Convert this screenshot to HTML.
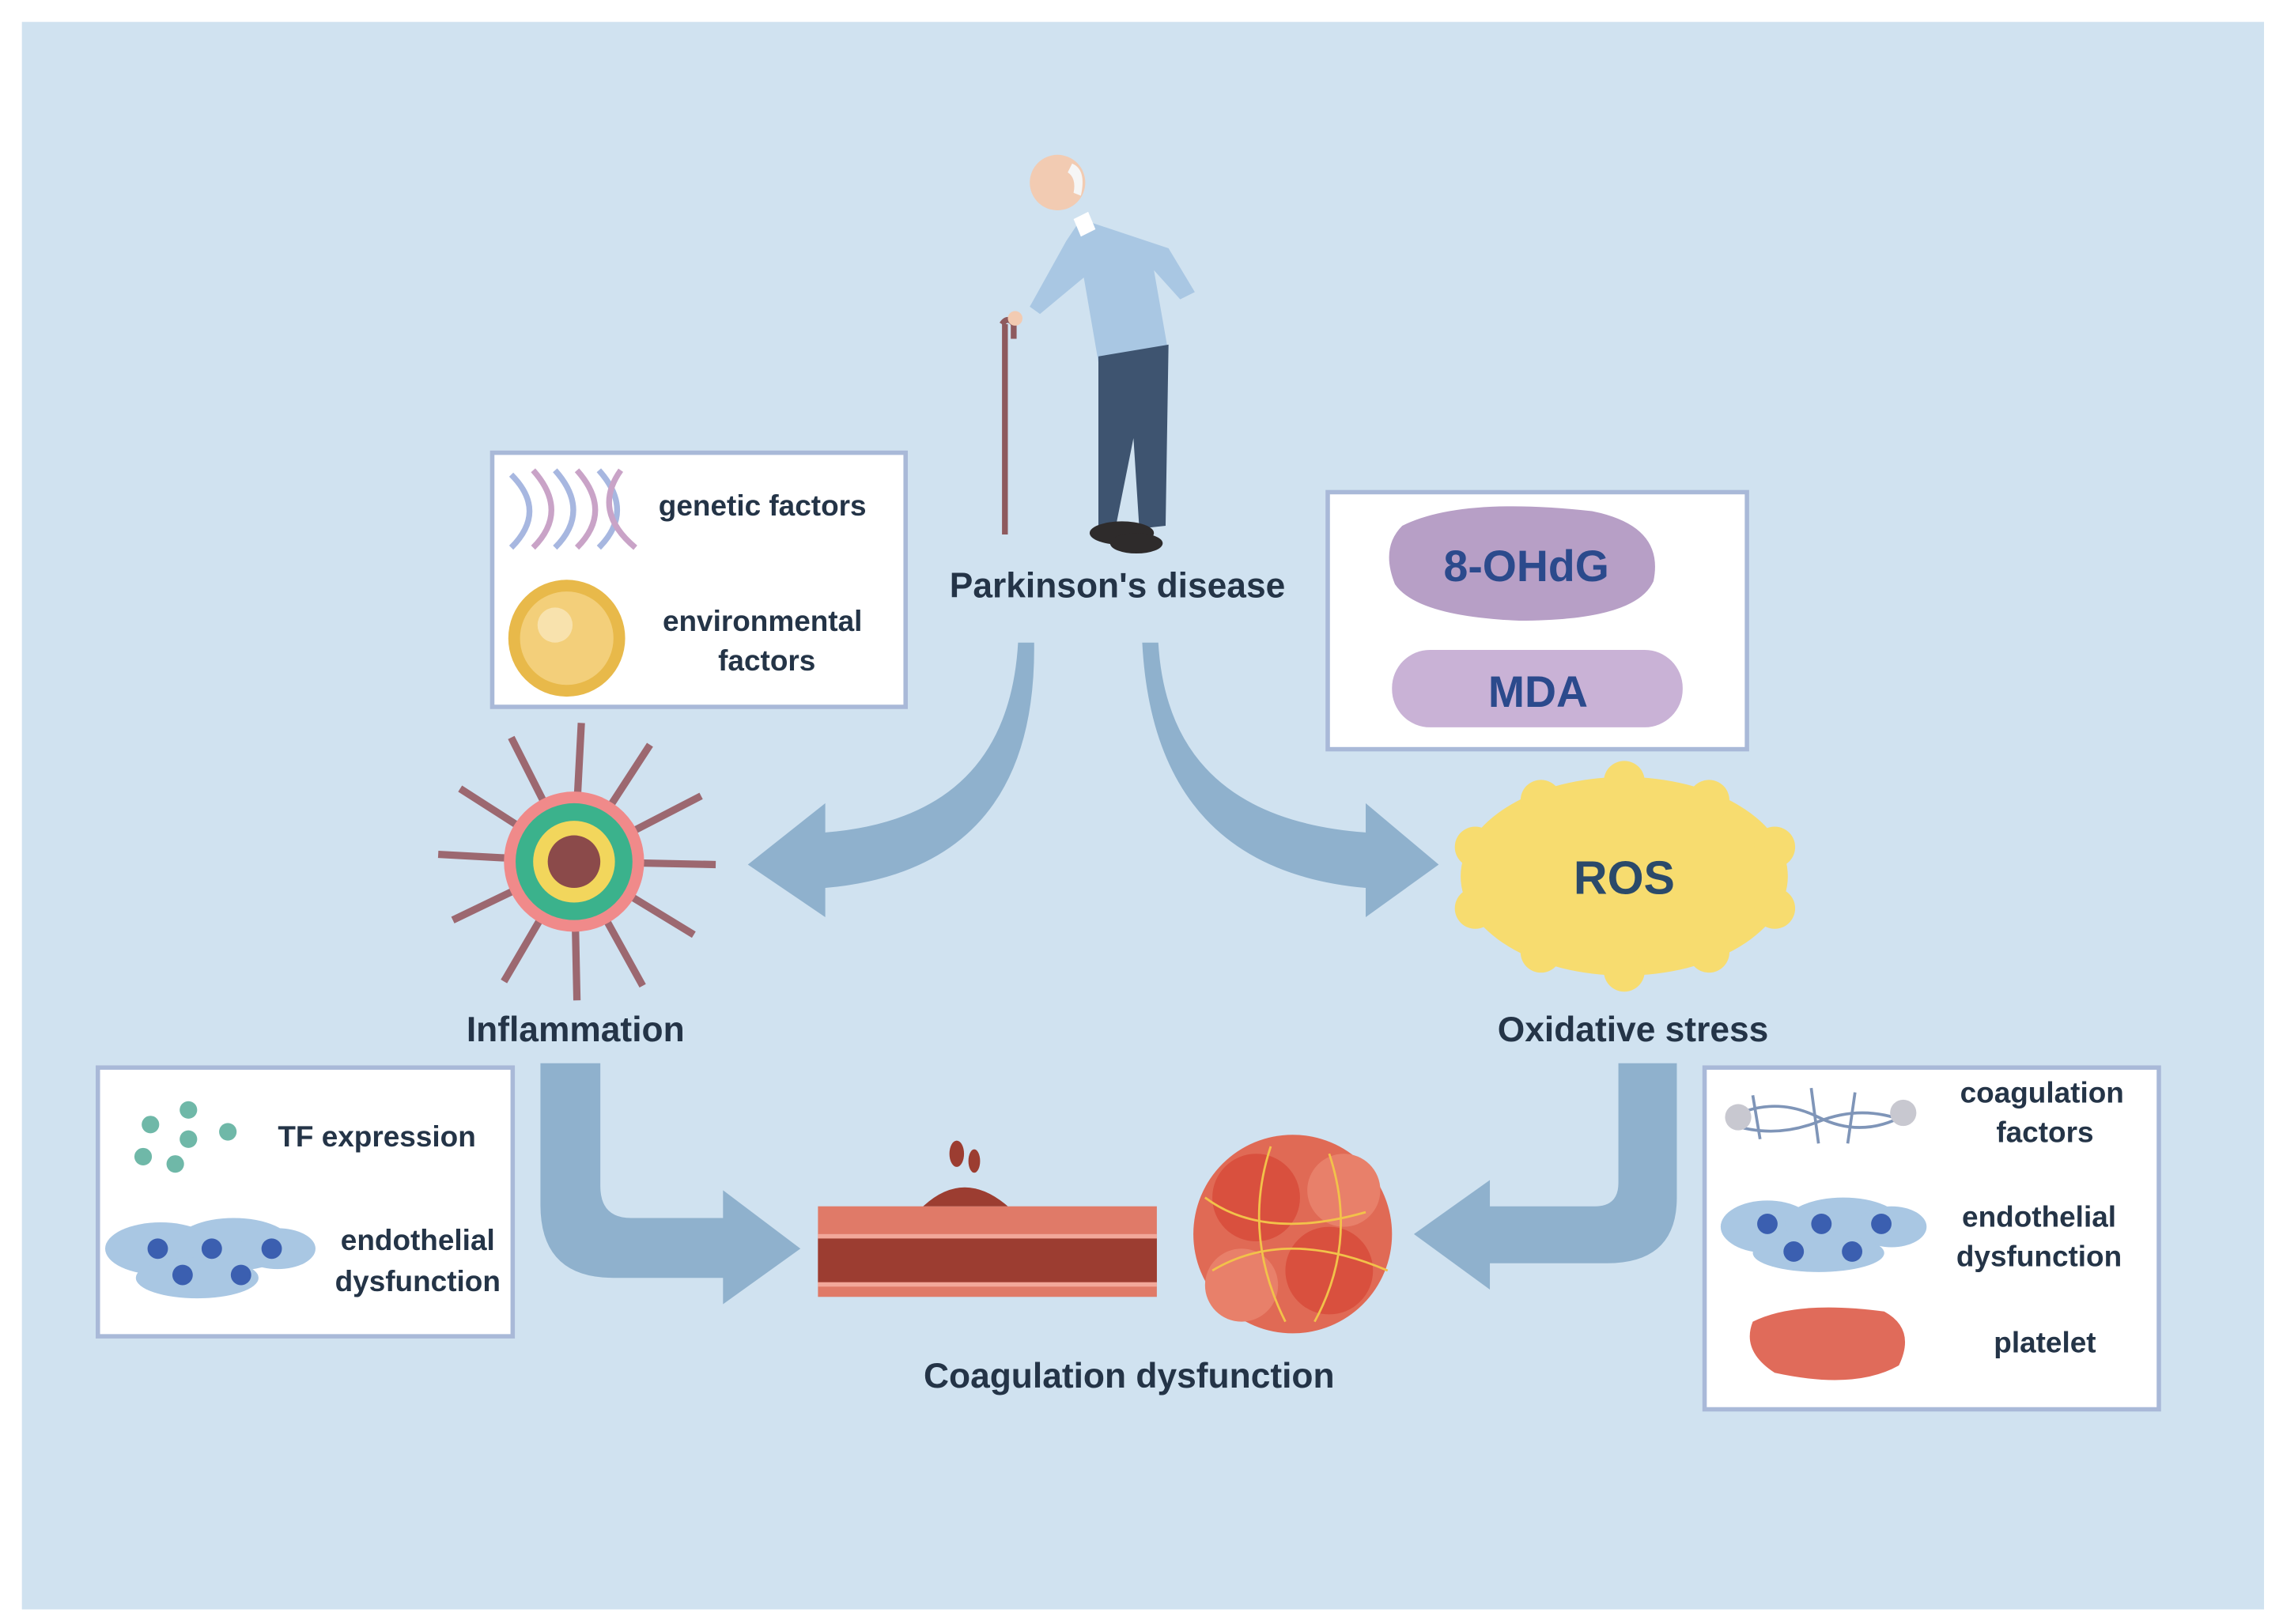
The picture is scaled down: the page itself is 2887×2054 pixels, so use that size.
<!DOCTYPE html>
<html><head><meta charset="utf-8"><style>
html,body{margin:0;padding:0;background:#fff}
svg{display:block}
text{font-family:"Liberation Sans",sans-serif;font-weight:bold;fill:#243447}
</style></head><body>
<svg width="2887" height="2054" viewBox="0 0 1563 1112" preserveAspectRatio="none" xmlns="http://www.w3.org/2000/svg">
<rect x="0" y="0" width="1563" height="1112" fill="#fff"/>
<rect x="15" y="15" width="1535" height="1087" fill="#d0e2f0"/>

<!-- Old man -->
<g>
<line x1="688" y1="222" x2="688" y2="366" stroke="#8e5a5e" stroke-width="4"/>
<path d="M686 222 q4 -6 8 0 v10" stroke="#8e5a5e" stroke-width="4" fill="none"/>
<path d="M740 150 L800 170 L818 200 L808 205 L790 185 L800 242 L752 248 L742 190 L712 215 L705 210 L730 165 Z" fill="#a9c7e3"/>
<path d="M752 244 L800 236 L798 360 L780 362 L776 300 L764 360 L752 360 Z" fill="#3e5470"/>
<ellipse cx="768" cy="365" rx="22" ry="8" fill="#2e2b2b"/>
<ellipse cx="778" cy="372" rx="18" ry="7" fill="#2e2b2b"/>
<circle cx="724" cy="125" r="19" fill="#f2cbb2"/>
<path d="M734 112 q10 4 6 22 l-5 -2 q2 -10 -4 -14 z" fill="#f6f6f6"/>
<path d="M735 150 l10 -5 l5 12 l-10 5 z" fill="#fff"/>
<circle cx="695" cy="218" r="5" fill="#f2cbb2"/>
</g>
<text x="765" y="409" font-size="24" text-anchor="middle">Parkinson's disease</text>

<!-- left top box -->
<rect x="337" y="310" width="283" height="174" fill="#fff" stroke="#a9b9d8" stroke-width="3"/>
<g stroke-width="4" fill="none">
<path d="M350 325 q25 25 0 50" stroke="#a7b7e0"/>
<path d="M365 322 q25 28 0 53" stroke="#c9a3c7"/>
<path d="M380 322 q25 28 0 53" stroke="#a7b7e0"/>
<path d="M395 322 q25 28 0 53" stroke="#c9a3c7"/>
<path d="M410 322 q25 28 0 53" stroke="#a7b7e0"/>
<path d="M425 322 q-20 28 10 53" stroke="#c9a3c7"/>
</g>
<circle cx="388" cy="437" r="40" fill="#e8b94a"/>
<circle cx="388" cy="437" r="32" fill="#f3cf7a"/>
<circle cx="380" cy="428" r="12" fill="#f8e2ad"/>
<text x="522" y="353" font-size="20" text-anchor="middle">genetic factors</text>
<text x="522" y="432" font-size="20" text-anchor="middle">environmental</text>
<text x="525" y="459" font-size="20" text-anchor="middle">factors</text>

<!-- right top box -->
<rect x="909" y="337" width="287" height="176" fill="#fff" stroke="#a9b9d8" stroke-width="3"/>
<path d="M960 360 Q1000 340 1090 350 Q1140 360 1132 398 Q1120 425 1040 425 Q970 422 955 400 Q945 375 960 360 Z" fill="#b79fc6"/>
<text x="1045" y="398" font-size="30" text-anchor="middle" style="fill:#2b4a8c">8-OHdG</text>
<rect x="953" y="445" width="199" height="53" rx="26" fill="#c9b2d6"/>
<text x="1053" y="484" font-size="30" text-anchor="middle" style="fill:#2b4a8c">MDA</text>

<!-- curved arrows -->
<path d="M697 440 Q690 560 565 570 L565 550 L512 592 L565 628 L565 608 Q710 595 708 440 Z" fill="#8fb1cd"/>
<path d="M793 440 Q800 560 935 570 L935 550 L985 592 L935 628 L935 608 Q790 595 782 440 Z" fill="#8fb1cd"/>

<!-- Inflammation virus -->
<g stroke="#9c6870" stroke-width="5">
<line x1="393" y1="590" x2="300" y2="585"/><line x1="393" y1="590" x2="315" y2="540"/>
<line x1="393" y1="590" x2="350" y2="505"/><line x1="393" y1="590" x2="398" y2="495"/>
<line x1="393" y1="590" x2="445" y2="510"/><line x1="393" y1="590" x2="480" y2="545"/>
<line x1="393" y1="590" x2="490" y2="592"/><line x1="393" y1="590" x2="475" y2="640"/>
<line x1="393" y1="590" x2="440" y2="675"/><line x1="393" y1="590" x2="395" y2="685"/>
<line x1="393" y1="590" x2="345" y2="672"/><line x1="393" y1="590" x2="310" y2="630"/>
</g>
<circle cx="393" cy="590" r="48" fill="#f08a8a"/>
<circle cx="393" cy="590" r="40" fill="#3bb28c"/>
<circle cx="393" cy="590" r="28" fill="#f2d65c"/>
<circle cx="393" cy="590" r="18" fill="#8b4a4a"/>
<text x="394" y="713" font-size="24" text-anchor="middle">Inflammation</text>

<!-- ROS -->
<g fill="#f7dc6f">
<ellipse cx="1112" cy="600" rx="112" ry="68"/>
<circle cx="1112" cy="535" r="14"/><circle cx="1055" cy="548" r="14"/><circle cx="1170" cy="548" r="14"/>
<circle cx="1010" cy="580" r="14"/><circle cx="1215" cy="580" r="14"/><circle cx="1010" cy="622" r="14"/>
<circle cx="1215" cy="622" r="14"/><circle cx="1055" cy="652" r="14"/><circle cx="1170" cy="652" r="14"/>
<circle cx="1112" cy="665" r="14"/>
</g>
<text x="1112" y="612" font-size="32" text-anchor="middle" style="fill:#2b4a6a">ROS</text>
<text x="1118" y="713" font-size="24" text-anchor="middle">Oxidative stress</text>

<!-- left bottom box -->
<rect x="67" y="731" width="284" height="184" fill="#fff" stroke="#a9b9d8" stroke-width="3"/>
<g fill="#6fb8a8"><circle cx="103" cy="770" r="6"/><circle cx="129" cy="760" r="6"/><circle cx="129" cy="780" r="6"/><circle cx="156" cy="775" r="6"/><circle cx="98" cy="792" r="6"/><circle cx="120" cy="797" r="6"/></g>
<g fill="#a9c7e3"><ellipse cx="110" cy="855" rx="38" ry="18"/><ellipse cx="160" cy="852" rx="40" ry="18"/><ellipse cx="135" cy="875" rx="42" ry="14"/><ellipse cx="190" cy="855" rx="26" ry="14"/></g>
<g fill="#3b5fb0"><circle cx="108" cy="855" r="7"/><circle cx="145" cy="855" r="7"/><circle cx="186" cy="855" r="7"/><circle cx="125" cy="873" r="7"/><circle cx="165" cy="873" r="7"/></g>
<text x="258" y="785" font-size="20" text-anchor="middle">TF expression</text>
<text x="286" y="856" font-size="20" text-anchor="middle">endothelial</text>
<text x="286" y="884" font-size="20" text-anchor="middle">dysfunction</text>

<!-- right bottom box -->
<rect x="1167" y="731" width="311" height="234" fill="#fff" stroke="#a9b9d8" stroke-width="3"/>
<g stroke="#7f95b8" stroke-width="2" fill="none"><path d="M1185 765 q30 -15 60 0 t60 -2"/><path d="M1185 770 q30 10 60 -2 t60 0"/><path d="M1200 750 l5 30 M1240 745 l5 38 M1270 748 l-5 35"/></g>
<circle cx="1190" cy="765" r="9" fill="#c8c8d0"/><circle cx="1303" cy="762" r="9" fill="#c8c8d0"/>
<g fill="#a9c7e3"><ellipse cx="1210" cy="840" rx="32" ry="18"/><ellipse cx="1262" cy="838" rx="40" ry="18"/><ellipse cx="1245" cy="858" rx="45" ry="13"/><ellipse cx="1295" cy="840" rx="24" ry="14"/></g>
<g fill="#3b5fb0"><circle cx="1210" cy="838" r="7"/><circle cx="1247" cy="838" r="7"/><circle cx="1288" cy="838" r="7"/><circle cx="1228" cy="857" r="7"/><circle cx="1268" cy="857" r="7"/></g>
<path d="M1200 905 Q1230 890 1290 898 Q1312 910 1300 935 Q1270 952 1215 940 Q1192 925 1200 905 Z" fill="#e06b5a"/>
<text x="1398" y="755" font-size="20" text-anchor="middle">coagulation</text>
<text x="1400" y="782" font-size="20" text-anchor="middle">factors</text>
<text x="1396" y="840" font-size="20" text-anchor="middle">endothelial</text>
<text x="1396" y="867" font-size="20" text-anchor="middle">dysfunction</text>
<text x="1400" y="926" font-size="20" text-anchor="middle">platelet</text>

<!-- elbow arrows -->
<path d="M370 728 H411 V812 Q411 834 432 834 H495 V815 L548 855 L495 893 V875 H420 Q370 875 370 825 Z" fill="#8fb1cd"/>
<path d="M1108 728 H1148 V820 Q1148 865 1100 865 H1020 V883 L968 845 L1020 808 V826 H1092 Q1108 826 1108 810 Z" fill="#8fb1cd"/>

<!-- vessel -->
<rect x="560" y="826" width="232" height="62" fill="#e07a68"/>
<rect x="560" y="848" width="232" height="30" fill="#9c3d31"/>
<rect x="560" y="845" width="232" height="3" fill="#f2a89a"/>
<rect x="560" y="878" width="232" height="3" fill="#f2a89a"/>
<path d="M632 826 Q660 800 690 826 Z" fill="#9c3d31"/>
<ellipse cx="655" cy="790" rx="5" ry="9" fill="#9c3d31"/><ellipse cx="667" cy="795" rx="4" ry="8" fill="#9c3d31"/>
<!-- clot -->
<circle cx="885" cy="845" r="68" fill="#e06a55"/>
<circle cx="860" cy="820" r="30" fill="#d9503e"/><circle cx="910" cy="870" r="30" fill="#d9503e"/>
<circle cx="850" cy="880" r="25" fill="#e8806a"/><circle cx="920" cy="815" r="25" fill="#e8806a"/>
<g stroke="#f2c24a" stroke-width="1.5" fill="none"><path d="M825 820 q40 30 110 10"/><path d="M830 870 q50 -30 120 0"/><path d="M870 785 q-20 60 10 120"/><path d="M910 790 q20 60 -10 115"/></g>
<text x="773" y="950" font-size="24" text-anchor="middle">Coagulation dysfunction</text>
</svg>
</body></html>
